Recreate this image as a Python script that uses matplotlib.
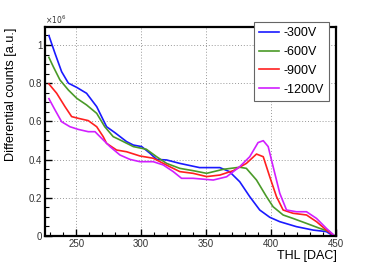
import numpy as np
import matplotlib
matplotlib.use('Agg')
import matplotlib.pyplot as plt
from matplotlib.ticker import MultipleLocator

plt.rcParams['font.family'] = ['Liberation Sans', 'DejaVu Sans']

# THL [DAC] and differential counts (x1e6)
thl_300 = [229, 233.7, 238.8, 244, 250.4, 258, 265.8, 273.4, 279.8, 288.8, 294, 300.4,
           306.8, 311.9, 319.6, 329.8, 345, 360.6, 368, 375.9, 383.6, 391.3, 399,
           406.7, 419.5, 432.4, 442.6, 448]
cnt_300 = [1.049, 0.956, 0.86, 0.80, 0.778, 0.747, 0.677, 0.572, 0.541, 0.494, 0.476, 0.468,
           0.433, 0.401, 0.398, 0.38, 0.358, 0.358, 0.337, 0.284, 0.206, 0.136, 0.098,
           0.075, 0.049, 0.031, 0.023, 0.0]

thl_600 = [229, 232.4, 237.5, 244, 250.4, 258, 265.8, 272, 278.5, 283.7, 294, 304,
           311.9, 319.6, 329.8, 340, 350.4, 363.2, 375.9, 381, 388.8, 396.5, 401.6,
           409.3, 416.9, 427.3, 437.5, 445, 449]
cnt_600 = [0.935, 0.886, 0.817, 0.764, 0.721, 0.686, 0.642, 0.572, 0.52, 0.503, 0.468, 0.454,
           0.415, 0.38, 0.354, 0.342, 0.328, 0.349, 0.36, 0.354, 0.293, 0.206, 0.153,
           0.11, 0.092, 0.066, 0.04, 0.023, 0.0]

thl_900 = [229, 235, 241.4, 246.5, 251.6, 259.3, 265.8, 270.8, 273.4, 281.1, 288.8, 299,
           309.3, 314.5, 322, 329.8, 340, 350.4, 360.6, 370.9, 381, 388.8, 394, 399,
           404.2, 409.3, 416.9, 427.3, 435, 442.6, 449]
cnt_900 = [0.796, 0.747, 0.677, 0.625, 0.616, 0.604, 0.572, 0.52, 0.485, 0.45, 0.441, 0.419,
           0.407, 0.389, 0.363, 0.337, 0.328, 0.311, 0.319, 0.342, 0.38, 0.429, 0.415, 0.31,
           0.206, 0.136, 0.119, 0.11, 0.075, 0.031, 0.0]

thl_1200 = [229, 233.7, 238.8, 245.2, 251.6, 259.3, 264.5, 268.3, 276, 283.7, 291.4, 299,
            309.3, 317, 324.7, 331.1, 340, 355.5, 365.8, 375.9, 383.6, 390, 394, 397.8,
            401.6, 406.7, 411.9, 419.5, 427.3, 435, 442.6, 449]
cnt_1200 = [0.719, 0.66, 0.598, 0.572, 0.558, 0.546, 0.546, 0.52, 0.468, 0.424, 0.401, 0.389,
            0.389, 0.372, 0.337, 0.302, 0.302, 0.293, 0.31, 0.363, 0.415, 0.489, 0.499, 0.468,
            0.363, 0.224, 0.136, 0.127, 0.127, 0.092, 0.04, 0.0]

labels = ['-300V', '-600V', '-900V', '-1200V']
colors = ['#1a1aff', '#4a9a28', '#ff2020', '#d11fff']

fig = plt.figure(figsize=(3.74, 2.68), dpi=100)
ax = fig.add_axes([45/374, 1-236/268, 291/374, 209/268])

series = [(thl_300, cnt_300), (thl_600, cnt_600), (thl_900, cnt_900), (thl_1200, cnt_1200)]
for (x, y), lab, c in zip(series, labels, colors):
    ax.plot(x, y, color=c, lw=1.2, label=lab)

ax.set_xlim(226, 450)
ax.set_ylim(0, 1.094)
ax.xaxis.set_major_locator(MultipleLocator(50))
ax.xaxis.set_minor_locator(MultipleLocator(10))
ax.yaxis.set_major_locator(MultipleLocator(0.2))
ax.yaxis.set_minor_locator(MultipleLocator(0.05))
ax.yaxis.set_major_formatter(plt.FuncFormatter(lambda v, p: '%g' % round(v, 2)))

ax.grid(True, which='major', color='#999999', lw=0.7, linestyle=(0, (1, 2)))
ax.tick_params(which='both', direction='in', top=False, right=False,
               labelsize=7, labelcolor='#333333', pad=2)
ax.tick_params(which='major', length=5, width=1)
ax.tick_params(which='minor', length=3, width=0.8)
for s in ax.spines.values():
    s.set_linewidth(1.6)

fig.text(45/374, 1-20/268, r'$\times10^{6}$', fontsize=5.5, color='#333333',
         ha='left', va='center')
fig.text(11/374, 1-94/268, 'Differential counts [a.u.]', rotation=90, fontsize=9.1,
         ha='center', va='center')
fig.text(337/374, 1-256/268, 'THL [DAC]', fontsize=9, ha='right', va='center')

leg = fig.legend(loc='upper left', bbox_to_anchor=(254/374, 1-22/268),
                 fontsize=9, frameon=True, fancybox=False, framealpha=1,
                 edgecolor='#666666', handlelength=1.6, handletextpad=0.4,
                 labelspacing=0.55, borderpad=0.4, borderaxespad=0)
leg.get_frame().set_linewidth(0.8)
leg.set_zorder(10)

plt.savefig('out.png', facecolor='white')
